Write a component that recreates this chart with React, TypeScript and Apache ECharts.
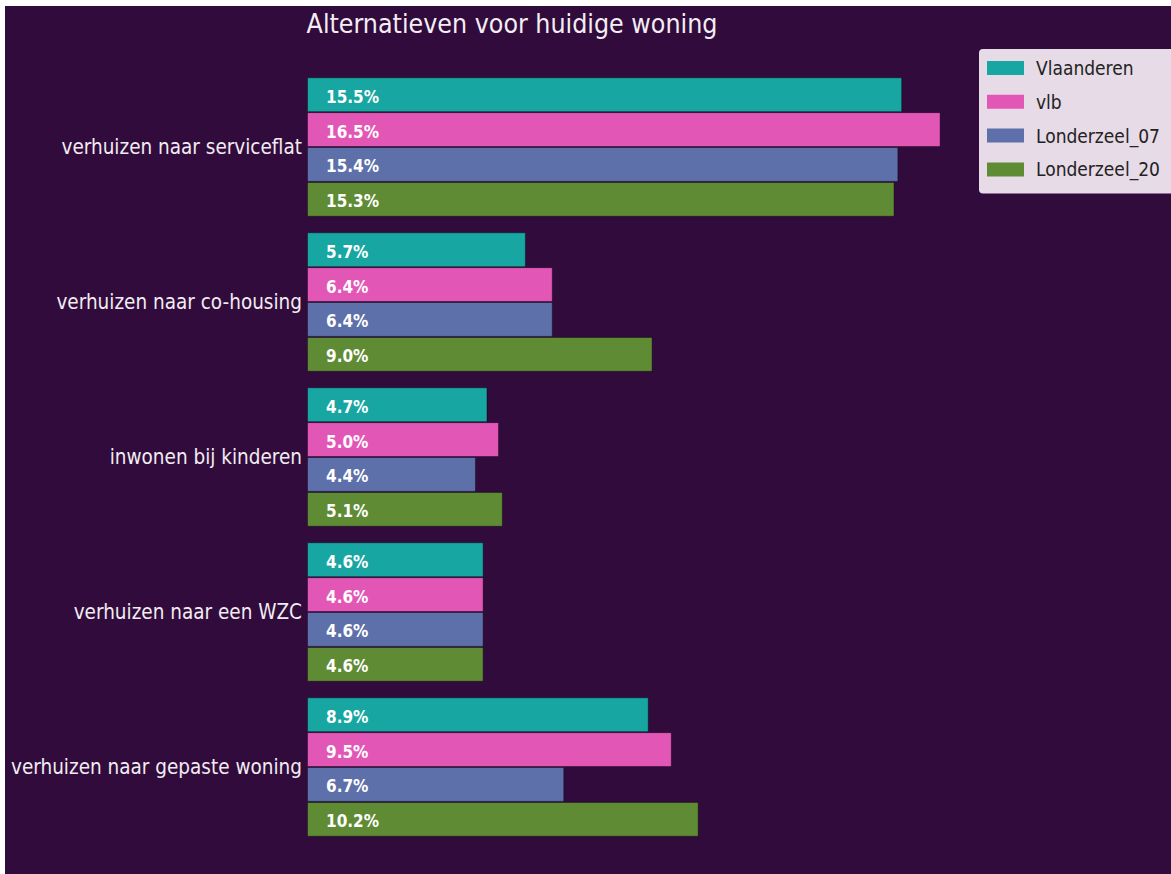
import React, { useEffect, useRef } from "react";
import * as echarts from "echarts";

const categories = [
  "verhuizen naar serviceflat",
  "verhuizen naar co-housing",
  "inwonen bij kinderen",
  "verhuizen naar een WZC",
  "verhuizen naar gepaste woning",
];
const seriesNames = ["Vlaanderen", "vlb", "Londerzeel_07", "Londerzeel_20"];
const vlaanderen = [15.5, 5.7, 4.7, 4.6, 8.9];
const vlb = [16.5, 6.4, 5.0, 4.6, 9.5];
const londerzeel07 = [15.4, 6.4, 4.4, 4.6, 6.7];
const londerzeel20 = [15.3, 9.0, 5.1, 4.6, 10.2];
const colors = ["#17a6a1", "#e257b6", "#5d70a9", "#5f8b35"];
const title = "Alternatieven voor huidige woning";

const FONT = "'DejaVu Sans Condensed', 'DejaVu Sans', sans-serif";

export default function App() {
  const ref = useRef<HTMLDivElement>(null);
  useEffect(() => {
    const chart = echarts.init(ref.current!, null, { renderer: "svg" });
    const values = [vlaanderen, vlb, londerzeel07, londerzeel20];
    chart.setOption({
      animation: false,
      backgroundColor: "#300b3b",
      textStyle: { fontFamily: FONT },
      graphic: [
        {
          type: "text",
          x: 507,
          y: 17,
          style: {
            text: title,
            fill: "#f4eef4",
            font: `26.5px ${FONT}`,
            textAlign: "center",
            textVerticalAlign: "middle",
          },
        },
      ],
      legend: {
        orient: "vertical",
        left: 974,
        top: 43,
        data: seriesNames,
        backgroundColor: "#e7dbe7",
        borderRadius: 4,
        padding: [9, 30, 14, 8],
        itemWidth: 37,
        itemHeight: 14,
        itemGap: 13.8,
        icon: "rect",
        itemStyle: { borderWidth: 0 },
        textStyle: {
          color: "#222222",
          fontSize: 19,
          lineHeight: 20,
          fontFamily: FONT,
          padding: [0, 0, 0, 7],
        },
      },
      grid: { left: 302, top: 63.5, width: 768, height: 775, containLabel: false },
      xAxis: {
        type: "value",
        min: 0,
        max: 20,
        show: false,
      },
      yAxis: {
        type: "category",
        data: categories,
        inverse: true,
        axisLine: { show: false },
        axisTick: { show: false },
        axisLabel: { color: "#f2ecf2", fontSize: 20.5, margin: 5, fontFamily: FONT },
      },
      series: seriesNames.map((name, i) => ({
        name,
        type: "bar",
        data: values[i],
        barGap: "0%",
        barCategoryGap: "10%",
        itemStyle: { color: colors[i], borderColor: "rgba(10,0,15,0.4)", borderWidth: 1 },
        label: {
          show: true,
          position: "insideLeft",
          distance: 19,
          offset: [0, 2],
          color: "#ffffff",
          fontWeight: "bold",
          fontSize: 17,
          fontFamily: FONT,
          formatter: (p: any) => `${p.value.toFixed(1)}%`,
        },
      })),
    });
    return () => chart.dispose();
  }, []);
  return (
    <div
      ref={ref}
      style={{ position: "absolute", left: 5, top: 6, width: 1166, height: 868 }}
    />
  );
}
